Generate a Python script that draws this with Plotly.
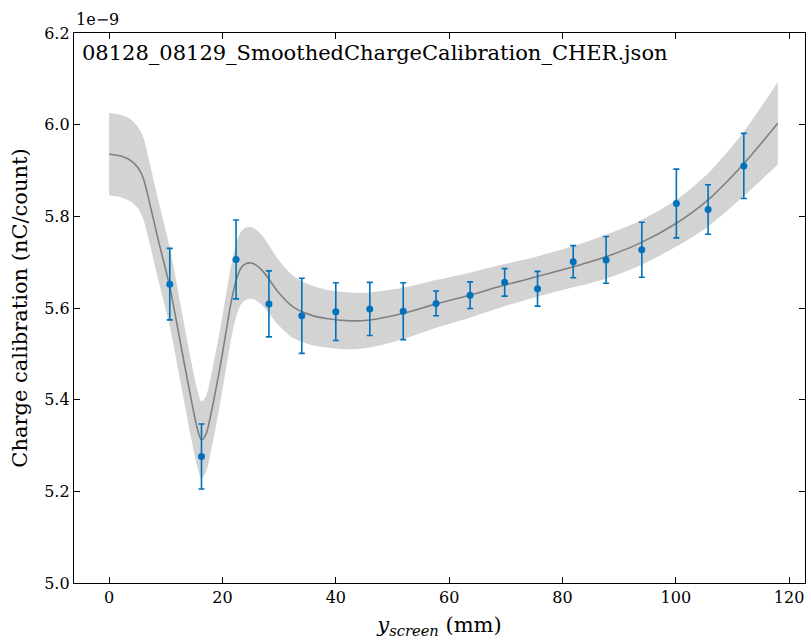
import plotly.graph_objects as go

# Measured points (y in units of 1e-9 nC/count)
pt_x = [10.7, 16.3, 22.4, 28.2, 34.0, 40.0, 46.0, 51.9, 57.7, 63.7, 69.8, 75.6, 81.9, 87.7, 94.0, 100.1, 105.7, 112.0]
pt_y = [5.652, 5.276, 5.706, 5.609, 5.583, 5.592, 5.598, 5.593, 5.610, 5.628, 5.656, 5.642, 5.701, 5.705, 5.727, 5.828, 5.815, 5.910]
pt_err = [0.078, 0.071, 0.086, 0.072, 0.082, 0.063, 0.058, 0.062, 0.027, 0.029, 0.030, 0.038, 0.035, 0.051, 0.060, 0.075, 0.054, 0.071]

# Smoothed calibration curve and its uncertainty band
cv_x = [0, 2.2, 3.9, 5.1, 6.0, 6.9, 8.6, 10.7, 12.7, 14.5, 15.5, 16.3, 17.1, 18.0, 19.8, 21.6, 22.5, 23.3, 24.2, 25.1, 26.0, 27.0, 28.2, 29.5, 32.4, 35.5, 38.3, 42.4, 46.0, 51.8, 57.7, 63.6, 69.8, 75.4, 81.9, 87.7, 93.6, 100.1, 105.7, 111.8, 118.0]
cv_y = [5.936, 5.931, 5.921, 5.906, 5.884, 5.842, 5.752, 5.646, 5.516, 5.399, 5.340, 5.312, 5.325, 5.371, 5.487, 5.617, 5.664, 5.688, 5.697, 5.698, 5.693, 5.682, 5.663, 5.640, 5.603, 5.585, 5.577, 5.572, 5.574, 5.588, 5.609, 5.628, 5.650, 5.668, 5.690, 5.712, 5.741, 5.785, 5.836, 5.912, 6.003]
cv_sig = [0.090, 0.090, 0.090, 0.089, 0.089, 0.088, 0.087, 0.086, 0.085, 0.084, 0.084, 0.084, 0.083, 0.082, 0.081, 0.080, 0.080, 0.079, 0.079, 0.078, 0.077, 0.076, 0.074, 0.072, 0.068, 0.065, 0.063, 0.062, 0.060, 0.056, 0.052, 0.049, 0.046, 0.044, 0.045, 0.048, 0.049, 0.051, 0.058, 0.070, 0.090]

title_text = "08128_08129_SmoothedChargeCalibration_CHER.json"
y_ticks = [5.0, 5.2, 5.4, 5.6, 5.8, 6.0, 6.2]
x_ticks = [0, 20, 40, 60, 80, 100, 120]

FONT = "DejaVu Serif"
BLUE = "#0072BD"

upper = [y + s for y, s in zip(cv_y, cv_sig)]
lower = [y - s for y, s in zip(cv_y, cv_sig)]

fig = go.Figure()
fig.add_trace(go.Scatter(
    x=cv_x, y=lower, mode="lines",
    line=dict(width=0, color="#d3d3d3", shape="spline", smoothing=0.8),
    hoverinfo="skip", showlegend=False))
fig.add_trace(go.Scatter(
    x=cv_x, y=upper, mode="lines", fill="tonexty", fillcolor="#d3d3d3",
    line=dict(width=0, color="#d3d3d3", shape="spline", smoothing=0.8),
    hoverinfo="skip", showlegend=False))
fig.add_trace(go.Scatter(
    x=cv_x, y=cv_y, mode="lines",
    line=dict(color="#808080", width=1.6, shape="spline", smoothing=0.8),
    showlegend=False))
fig.add_trace(go.Scatter(
    x=pt_x, y=pt_y, mode="markers",
    marker=dict(color=BLUE, size=7),
    error_y=dict(type="data", array=pt_err, color=BLUE, thickness=1.6, width=3),
    showlegend=False))

axis_common = dict(
    showline=True, linecolor="black", linewidth=1.3, mirror="ticks",
    ticks="inside", ticklen=6, tickwidth=1.2, tickcolor="black",
    showgrid=False, zeroline=False,
    tickfont=dict(family=FONT, size=16, color="black"))

fig.update_xaxes(range=[-6.2, 122.8], tickvals=x_ticks,
                 title=dict(text="<i>y</i><sub><i>screen</i></sub> (mm)",
                            font=dict(family=FONT, size=21, color="black"), standoff=10),
                 **axis_common)
fig.update_yaxes(range=[5.0, 6.2], tickvals=y_ticks, tickformat=".1f",
                 title=dict(text="Charge calibration (nC/count)",
                            font=dict(family=FONT, size=21, color="black"), standoff=10),
                 **axis_common)

fig.add_annotation(text=title_text, xref="paper", yref="paper", x=0.008, y=0.99,
                   xanchor="left", yanchor="top", showarrow=False,
                   font=dict(family=FONT, size=21, color="black"))
fig.add_annotation(text="1e\u22129", xref="paper", yref="paper", x=0.0, y=1.0,
                   xanchor="left", yanchor="bottom", yshift=2, showarrow=False,
                   font=dict(family=FONT, size=16, color="black"))

fig.update_layout(width=811, height=641, margin=dict(l=74, r=6, t=33, b=58),
                  plot_bgcolor="white", paper_bgcolor="white",
                  font=dict(family=FONT, color="black"))

fig.write_html("out.html")
